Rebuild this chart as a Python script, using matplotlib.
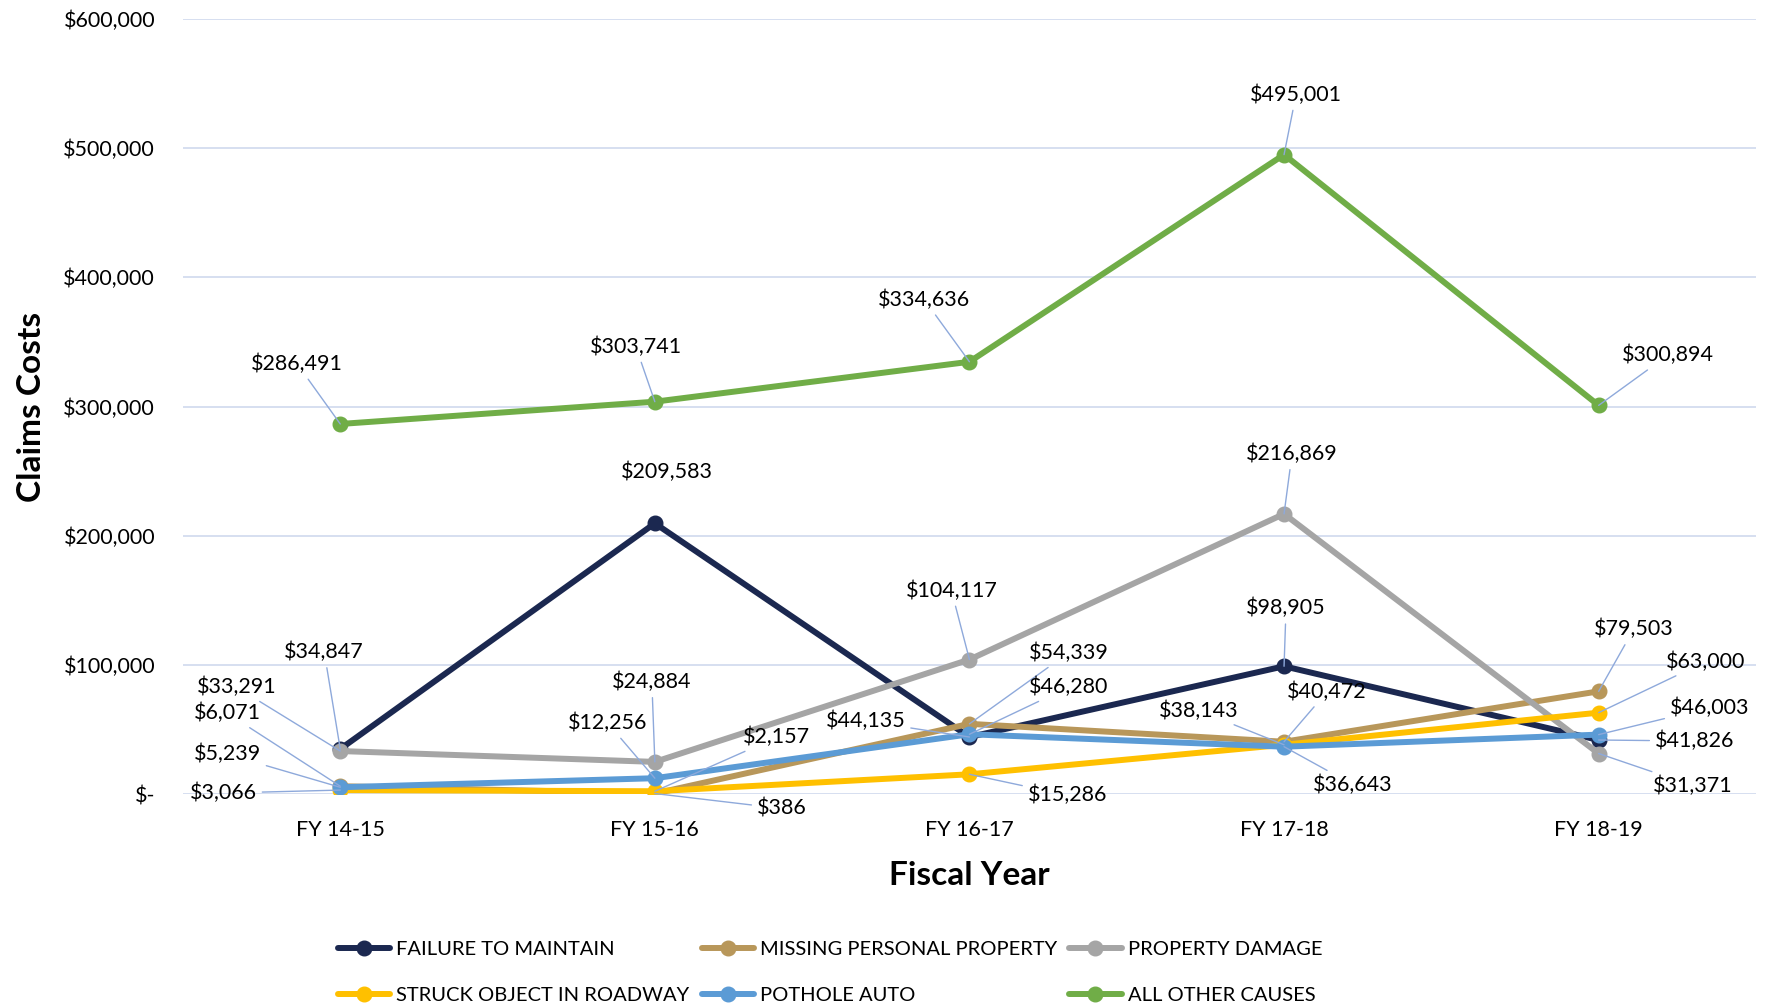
import numpy as np
import matplotlib.pyplot as plt
from matplotlib.ticker import FuncFormatter

plt.rcParams['font.family'] = ['Lato', 'DejaVu Sans']

years = ["FY 14-15", "FY 15-16", "FY 16-17", "FY 17-18", "FY 18-19"]

failure = [34847, 209583, 44135, 98905, 41826]
missing = [6071, 386, 54339, 40472, 79503]
damage = [33291, 24884, 104117, 216869, 31371]
struck = [3066, 2157, 15286, 38143, 63000]
pothole = [5239, 12256, 46280, 36643, 46003]
other = [286491, 303741, 334636, 495001, 300894]

names = ["FAILURE TO MAINTAIN", "MISSING PERSONAL PROPERTY", "PROPERTY DAMAGE",
         "STRUCK OBJECT IN ROADWAY", "POTHOLE AUTO", "ALL OTHER CAUSES"]
colors = ["#1b2850", "#b8975a", "#a5a5a5", "#ffc000", "#5b9bd5", "#70ad47"]
series = [failure, missing, damage, struck, pothole, other]

# label offsets (pixels) for each series / year
offsets = [
    [(-16, 97), (12, 51), (-104, 16), (2, 58), (96, -1)],
    [(-113, 73), (127, -15), (99, 71), (43, 50), (35, 62)],
    [(-104, 64), (-3, 80), (-18, 69), (8, 60), (94, -32)],
    [(-117, -3), (122, 54), (98, -21), (-85, 34), (107, 51)],
    [(-113, 33), (-47, 55), (99, 47), (69, -38), (111, 27)],
    [(-43, 60), (-19, 55), (-45, 62), (12, 60), (69, 50)],
]

fig = plt.figure(figsize=(17.71, 10.06), dpi=100)
ax = fig.add_axes([0.1033, 0.2107, 0.8882, 0.7704])

x = np.arange(len(years))
lines = []
for vals, name, c in zip(series, names, colors):
    ln, = ax.plot(x, vals, color=c, lw=4.3, marker='o', ms=10.5, label=name,
                  solid_capstyle='round')
    lines.append(ln)

leader = "#8ea9db"
for vals, offs in zip(series, offsets):
    for xi, (v, (dx, dy)) in enumerate(zip(vals, offs)):
        s = "$" + f"{v:,}"
        far = np.hypot(dx, dy) > 55
        ax.annotate(s, (xi, v), xytext=(dx, dy), textcoords='offset pixels',
                    ha='center', va='center', fontsize=15.5, color='black',
                    arrowprops=dict(arrowstyle='-', color=leader, lw=1.0,
                                    shrinkA=2, shrinkB=0) if far else None,
                    zorder=5)

ax.set_xlim(-0.5, 4.5)
ax.set_ylim(0, 600000)
ax.set_yticks(np.arange(0, 600001, 100000))
ax.yaxis.set_major_formatter(FuncFormatter(lambda v, p: "$-" if v == 0 else f"${int(v):,}"))
ax.set_xticks(x)
ax.set_xticklabels(years)
ax.tick_params(axis='both', length=0, labelsize=15.5, labelcolor='black')
ax.tick_params(axis='y', pad=20)
ax.tick_params(axis='x', pad=19)
for sp in ax.spines.values():
    sp.set_visible(False)
ax.grid(axis='y', color="#cfd9ee", lw=1.2)
ax.set_axisbelow(True)

ax.set_ylabel("Claims Costs", fontsize=24, fontweight='bold')
ax.yaxis.set_label_coords(-0.087, 0.5)
ax.set_xlabel("Fiscal Year", fontsize=24, fontweight='bold')
ax.xaxis.set_label_coords(0.5, -0.087)

order = [0, 3, 1, 4, 2, 5]
fig.legend([lines[i] for i in order], [names[i] for i in order], ncol=3,
           loc='center left', bbox_to_anchor=(0.1806, 0.033), frameon=False,
           fontsize=14.5, handlelength=2.6, handletextpad=0.3,
           columnspacing=0.6, labelspacing=1.45)

fig.savefig("out.png", dpi=100)
